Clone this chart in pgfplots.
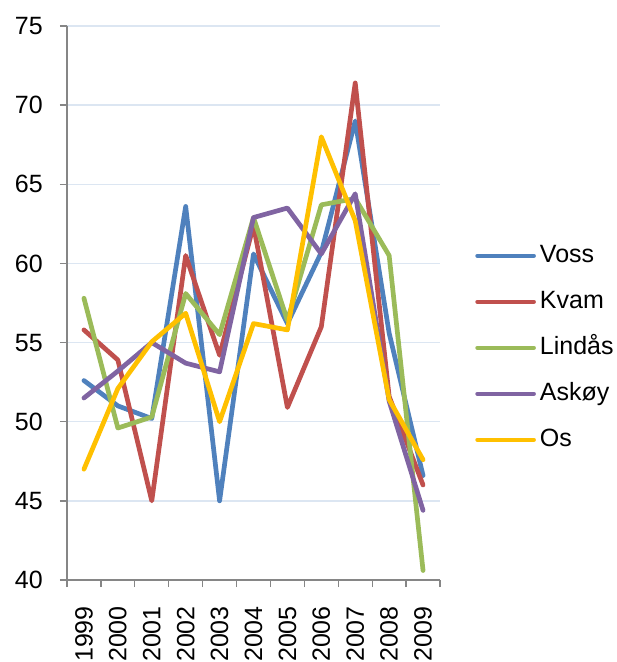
\documentclass[border=0pt]{standalone}
\usepackage{pgfplots}
\pgfplotsset{compat=1.18}
\usepackage{fontspec}
\setmainfont{Liberation Sans}
\definecolor{voss}{HTML}{4F81BD}
\definecolor{kvam}{HTML}{C0504D}
\definecolor{lindas}{HTML}{9BBB59}
\definecolor{askoy}{HTML}{8064A2}
\definecolor{os}{HTML}{FFC000}
\definecolor{gridc}{RGB}{220,230,242}
\definecolor{axc}{HTML}{868686}
\begin{document}
\begin{tikzpicture}
\begin{axis}[
  scale only axis,
  width=373bp, height=554bp,
  xmin=-0.5, xmax=10.5, ymin=40, ymax=75,
  axis lines*=left,
  axis line style={axc, line width=1.3bp},
  ytick={40,45,...,75},
  ymajorgrids,
  grid style={gridc, line width=1.3bp},
  xtick={0,...,10},
  xticklabels={1999,2000,2001,2002,2003,2004,2005,2006,2007,2008,2009},
  minor xtick={-0.5,0.5,...,10.5},
  tick align=outside,
  major tick length=7bp,
  minor tick length=7bp,
  every major x tick/.append style={draw=none},
  tick style={axc, line width=1.3bp},
  every tick label/.append style={font=\fontsize{25bp}{30bp}\selectfont},
  /pgf/number format/assume math mode=true,
  yticklabel style={anchor=east, inner sep=0pt, xshift=-17bp},
  xticklabel style={yshift=-19bp, rotate=90, anchor=east, inner sep=0pt},
  legend style={draw=none, fill=none, anchor=west, at={(1.086,0.419)},
    font=\fontsize{25bp}{30bp}\selectfont,
    row sep=23bp, column sep=4bp,
    nodes={inner sep=0pt, text height=18bp, text depth=5bp}},
  legend cell align=left,
  legend image code/.code={\draw[#1, line cap=round] (0bp,0bp) -- (56bp,0bp);},
  every axis plot/.append style={line width=4.7bp, line join=round, line cap=round},
  clip=false,
]
\addplot[voss] coordinates {(0,52.6)(1,51.0)(2,50.2)(3,63.6)(4,45.0)(5,60.6)(6,56.2)(7,60.7)(8,69.0)(9,55.6)(10,46.6)};
\addlegendentry{Voss}
\addplot[kvam] coordinates {(0,55.8)(1,53.9)(2,45.0)(3,60.5)(4,54.2)(5,62.4)(6,50.9)(7,56.0)(8,71.4)(9,51.6)(10,46.0)};
\addlegendentry{Kvam}
\addplot[lindas] coordinates {(0,57.8)(1,49.6)(2,50.3)(3,58.1)(4,55.5)(5,62.9)(6,56.4)(7,63.7)(8,64.1)(9,60.5)(10,40.6)};
\addlegendentry{Lindås}
\addplot[askoy] coordinates {(0,51.5)(1,53.2)(2,55.0)(3,53.7)(4,53.15)(5,62.9)(6,63.5)(7,60.6)(8,64.4)(9,51.3)(10,44.4)};
\addlegendentry{Askøy}
\addplot[os] coordinates {(0,47.0)(1,52.1)(2,55.05)(3,56.85)(4,50.0)(5,56.2)(6,55.8)(7,68.0)(8,62.7)(9,51.4)(10,47.6)};
\addlegendentry{Os}
\end{axis}
\pgfresetboundingbox
\useasboundingbox (-67bp,-82bp) rectangle (550bp,580bp);
\end{tikzpicture}
\end{document}
